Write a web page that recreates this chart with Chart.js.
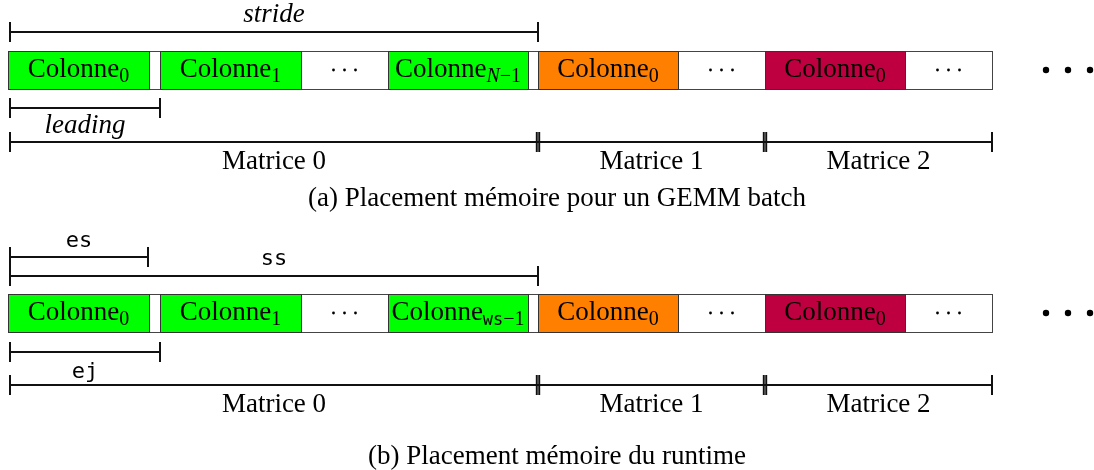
<!DOCTYPE html>
<html>
<head>
<meta charset="utf-8">
<script src="https://cdn.jsdelivr.net/npm/chart.js"></script>
<style>
  html, body { margin: 0; padding: 0; background: #fff; }
  #memChart { display: block; }
</style>
</head>
<body>
<canvas id="memChart" width="1094" height="470"></canvas>
<script>
// --- données : placement mémoire (unités le long de l'axe x) ---
const cellFrom = [8, 149, 160, 301, 388, 528, 538, 678, 765, 905];
const cellTo   = [149, 160, 301, 388, 528, 538, 678, 765, 905, 992];
const cellKind = ["m0", "pad", "m0", "dots", "m0", "pad", "m1", "dots", "m2", "dots"];
// "texte|indice"
const cellLabelA = ["Colonne|0", "", "Colonne|1", "···", "Colonne|N−1", "", "Colonne|0", "···", "Colonne|0", "···"];
const cellLabelB = ["Colonne|0", "", "Colonne|1", "···", "Colonne|ws−1", "", "Colonne|0", "···", "Colonne|0", "···"];

const matrixNames = ["Matrice 0", "Matrice 1", "Matrice 2"];
const matrixFrom  = [10, 538, 765];
const matrixTo    = [538, 765, 992];

const bracketNamesA = ["stride", "leading"];
const bracketFromA  = [10, 10];
const bracketToA    = [538, 160];
const bracketNamesB = ["es", "ss", "ej"];
const bracketFromB  = [10, 10, 10];
const bracketToB    = [148, 538, 160];

const moreX = [1046, 1068, 1090];   // "• • •" : la suite en mémoire

const captionA = "(a) Placement mémoire pour un GEMM batch";
const captionB = "(b) Placement mémoire du runtime";

// --- mise en page / styles ---
const SERIF = '"Liberation Serif", serif';
const MONO = '"DejaVu Sans Mono", monospace';
const FS = 27;
const kindColor = { m0: "#00ff00", m1: "#ff8000", m2: "#bf0040", pad: null, dots: null };

// positions verticales (lignes de base du texte en alphabetic)
const panels = [
    {
        labels: cellLabelA, subStyle: "italic", stripTop: 51, stripBottom: 89, cellBase: 77,
        matY: 142, matBase: 169, captionBase: 206, caption: captionA,
        brackets: bracketNamesA.map((n, i) => ({ name: n, from: bracketFromA[i], to: bracketToA[i] })),
        bracketY: [32, 108], labelBase: [22, 133], font: "italic " + FS + "px " + SERIF
    },
    {
        labels: cellLabelB, subStyle: "mono", stripTop: 294, stripBottom: 332, cellBase: 320,
        matY: 385, matBase: 412, captionBase: 464, caption: captionB,
        brackets: bracketNamesB.map((n, i) => ({ name: n, from: bracketFromB[i], to: bracketToB[i] })),
        bracketY: [257, 276, 352], labelBase: [247, 265, 378], font: "22px " + MONO
    }
];

function tick(ctx, x, y, h) {
    ctx.beginPath();
    ctx.moveTo(x, y - h);
    ctx.lineTo(x, y + h);
    ctx.stroke();
}

function bracket(ctx, x0, x1, y, dblLeft, dblRight) {
    ctx.strokeStyle = "#111";
    ctx.lineWidth = 2;
    ctx.beginPath();
    ctx.moveTo(x0, y);
    ctx.lineTo(x1, y);
    ctx.stroke();
    [[x0, dblLeft], [x1, dblRight]].forEach(([x, dbl]) => {
        if (dbl) {
            ctx.lineWidth = 1.6;
            tick(ctx, x - 1.3, y, 10);
            tick(ctx, x + 1.3, y, 10);
            ctx.lineWidth = 2;
        } else {
            tick(ctx, x, y, 10);
        }
    });
}

// texte + indice (les lettres de l'indice en italique ou en mono)
function labelWithSub(ctx, text, cx, baseY, subStyle) {
    const [main, sub] = text.split("|");
    ctx.textBaseline = "alphabetic";
    ctx.textAlign = "left";
    const mainFont = FS + "px " + SERIF;
    const subSize = Math.round(FS * 0.74);
    const runs = [];
    if (sub) {
        sub.split(/([A-Za-z]+)/).filter(s => s).forEach(s => {
            let f;
            if (/[A-Za-z]/.test(s)) {
                f = subStyle === "mono" ? (subSize - 3) + "px " + MONO : "italic " + subSize + "px " + SERIF;
            } else {
                f = subSize + "px " + SERIF;
            }
            runs.push([s, f]);
        });
    }
    ctx.font = mainFont;
    let w = ctx.measureText(main).width;
    const mainW = w;
    runs.forEach(r => { ctx.font = r[1]; r.push(ctx.measureText(r[0]).width); w += r[2]; });
    let x = cx - w / 2;
    ctx.font = mainFont;
    ctx.fillText(main, x, baseY);
    x += mainW;
    runs.forEach(r => {
        ctx.font = r[1];
        ctx.fillText(r[0], x, baseY + 5);
        x += r[2];
    });
}

const memoryPlugin = {
    id: "memoryLayout",
    beforeDatasetsDraw(chart) {
        const ctx = chart.ctx;
        const xs = chart.scales.x;
        const ys = chart.scales.y;
        ctx.save();
        panels.forEach(p => {
            const top = ys.getPixelForValue(p.stripTop);
            const bot = ys.getPixelForValue(p.stripBottom);
            // bande mémoire
            ctx.strokeStyle = "#444";
            ctx.lineWidth = 1;
            const sx0 = xs.getPixelForValue(cellFrom[0]);
            const sx1 = xs.getPixelForValue(cellTo[cellTo.length - 1]);
            ctx.strokeRect(sx0 + 0.5, top + 0.5, sx1 - sx0, bot - top);
            cellFrom.forEach((f, i) => {
                const x0 = xs.getPixelForValue(f);
                const x1 = xs.getPixelForValue(cellTo[i]);
                const col = kindColor[cellKind[i]];
                if (col) {
                    ctx.fillStyle = col;
                    ctx.fillRect(x0, top, x1 - x0, bot - top);
                    ctx.strokeStyle = "#333";
                    ctx.lineWidth = 1;
                    ctx.strokeRect(x0 + 0.5, top + 0.5, x1 - x0, bot - top);
                }
                const lab = p.labels[i];
                if (!lab) return;
                ctx.fillStyle = "#000";
                const cx = (x0 + x1) / 2;
                if (lab === "···") {
                    // trois petits points centrés
                    [-11, 0, 11].forEach(dx => {
                        ctx.beginPath();
                        ctx.arc(cx + dx, (top + bot) / 2, 1.4, 0, Math.PI * 2);
                        ctx.fill();
                    });
                } else {
                    labelWithSub(ctx, lab, cx, ys.getPixelForValue(p.cellBase), p.subStyle);
                }
            });

            // accolades (stride, leading / es, ss, ej)
            p.brackets.forEach((b, i) => {
                const y = ys.getPixelForValue(p.bracketY[i]);
                const x0 = xs.getPixelForValue(b.from);
                const x1 = xs.getPixelForValue(b.to);
                bracket(ctx, x0, x1, y, false, false);
                ctx.fillStyle = "#000";
                ctx.font = p.font;
                ctx.textAlign = "center";
                ctx.textBaseline = "alphabetic";
                ctx.fillText(b.name, (x0 + x1) / 2, ys.getPixelForValue(p.labelBase[i]));
            });

            // matrices
            const my = ys.getPixelForValue(p.matY);
            matrixNames.forEach((name, i) => {
                const x0 = xs.getPixelForValue(matrixFrom[i]);
                const x1 = xs.getPixelForValue(matrixTo[i]);
                bracket(ctx, x0, x1, my, i > 0, i < matrixNames.length - 1);
                ctx.fillStyle = "#000";
                ctx.font = FS + "px " + SERIF;
                ctx.textAlign = "center";
                ctx.textBaseline = "alphabetic";
                ctx.fillText(name, (x0 + x1) / 2, ys.getPixelForValue(p.matBase));
            });

            // légende de la sous-figure
            ctx.font = FS + "px " + SERIF;
            ctx.fillText(p.caption, xs.getPixelForValue(557), ys.getPixelForValue(p.captionBase));
        });
        ctx.restore();
    }
};

document.addEventListener("DOMContentLoaded", function () {
    const canvas = document.getElementById("memChart");
    const stripMid = panels.map(p => (p.stripTop + p.stripBottom) / 2);
    new Chart(canvas.getContext("2d"), {
        type: "scatter",
        data: {
            datasets: stripMid.map(y => ({
                data: moreX.map(x => ({ x: x, y: y })),
                pointRadius: 3.2,
                pointBackgroundColor: "#000",
                pointBorderWidth: 0
            }))
        },
        options: {
            responsive: false,
            animation: false,
            devicePixelRatio: 1,
            layout: { padding: 0, autoPadding: false },
            plugins: { legend: { display: false }, tooltip: { enabled: false } },
            scales: {
                x: { type: "linear", min: 0, max: 1094, display: false },
                y: { type: "linear", min: 0, max: 470, reverse: true, display: false }
            }
        },
        plugins: [memoryPlugin]
    });
});
</script>
</body>
</html>
